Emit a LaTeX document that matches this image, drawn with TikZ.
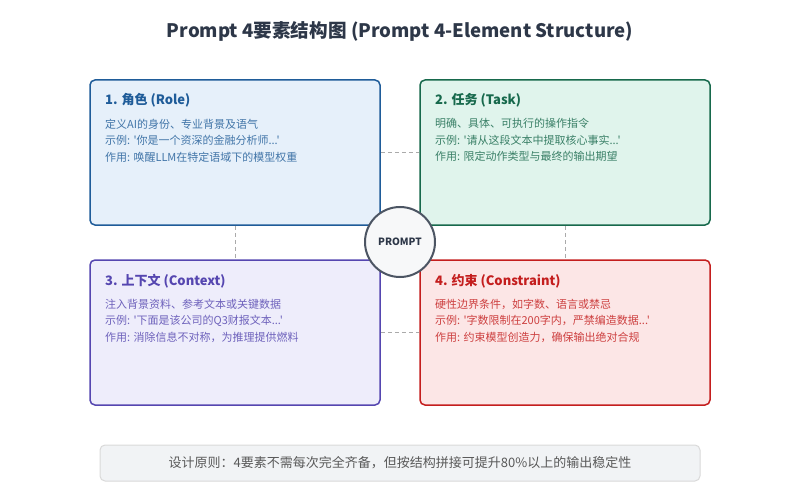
\documentclass[tikz,border=0pt]{standalone}
\usepackage{fontspec}
\setmainfont{Noto Sans CJK SC}[Ligatures=TeXOff]
\usetikzlibrary{calc,positioning}

\definecolor{roleC}{HTML}{1F5C99}
\definecolor{roleF}{HTML}{E6F0FA}
\definecolor{taskC}{HTML}{17694C}
\definecolor{taskF}{HTML}{E0F4EC}
\definecolor{ctxC}{HTML}{5546B0}
\definecolor{ctxF}{HTML}{EEEDFB}
\definecolor{conC}{HTML}{C41E1E}
\definecolor{conF}{HTML}{FCE6E6}
\definecolor{titleC}{HTML}{2D3748}
\definecolor{lineC}{HTML}{AAAAAA}
\definecolor{noteF}{HTML}{F1F3F5}

\begin{document}
\begin{tikzpicture}[x=1pt, y=-1pt,
  box/.style = {rectangle, rounded corners=5pt, line width=1.5pt, minimum width=290pt, minimum height=145pt, inner sep=0},
  head/.style = {anchor=base west, inner sep=0, font=\fontsize{13}{15}\selectfont\bfseries},
  body/.style = {anchor=north west, inner sep=0, align=left, font=\fontsize{11}{16.5}\selectfont},
  link/.style = {draw=lineC, line width=1pt, dash pattern=on 4pt off 3pt}]

\useasboundingbox (0,0) rectangle (800,500);

\node[font=\fontsize{18.6}{20}\selectfont\bfseries, text=titleC](title) at (400,31) {Prompt 4要素结构图 (Prompt 4-Element Structure)};

\node[box, draw=roleC, fill=roleF](role) at (235,152.5) {};
\node[box, draw=taskC, fill=taskF](task) at (565,152.5) {};
\node[box, draw=ctxC, fill=ctxF](context) at (235,332.5) {};
\node[box, draw=conC, fill=conF](constraint) at (565,332.5) {};

\draw [link] (role) to (task);
\draw [link] (context) to (constraint);
\draw [link] (role) to (context);
\draw [link] (task) to (constraint);

\node[circle, draw=titleC!85, fill=noteF!60, line width=2pt, minimum size=70pt, inner sep=0, font=\fontsize{10}{12}\selectfont\bfseries, text=titleC](prompt) at (400,242) {PROMPT};

\node[head, text=roleC](role-h) at (105,105) {1. 角色 (Role)};
\node[body, text=roleC!85](role-b) at (105,118.5) {定义AI的身份、专业背景及语气\\示例: '你是一个资深的金融分析师...'\\作用: 唤醒LLM在特定语域下的模型权重};

\node[head, text=taskC](task-h) at (435,105) {2. 任务 (Task)};
\node[body, text=taskC!85](task-b) at (435,118.5) {明确、具体、可执行的操作指令\\示例: '请从这段文本中提取核心事实...'\\作用: 限定动作类型与最终的输出期望};

\node[head, text=ctxC](context-h) at (105,285) {3. 上下文 (Context)};
\node[body, text=ctxC!85](context-b) at (105,298.5) {注入背景资料、参考文本或关键数据\\示例: '下面是该公司的Q3财报文本...'\\作用: 消除信息不对称，为推理提供燃料};

\node[head, text=conC](constraint-h) at (435,285) {4. 约束 (Constraint)};
\node[body, text=conC!85](constraint-b) at (435,298.5) {硬性边界条件，如字数、语言或禁忌\\示例: '字数限制在200字内，严禁编造数据...'\\作用: 约束模型创造力，确保输出绝对合规};

\node[rectangle, rounded corners=5pt, draw=black!15, fill=noteF, line width=1pt, minimum width=600pt, minimum height=36pt, font=\fontsize{13}{15}\selectfont, text=black!65](note) at (400,463) {设计原则：4要素不需每次完全齐备，但按结构拼接可提升80\%以上的输出稳定性};

\end{tikzpicture}
\end{document}
